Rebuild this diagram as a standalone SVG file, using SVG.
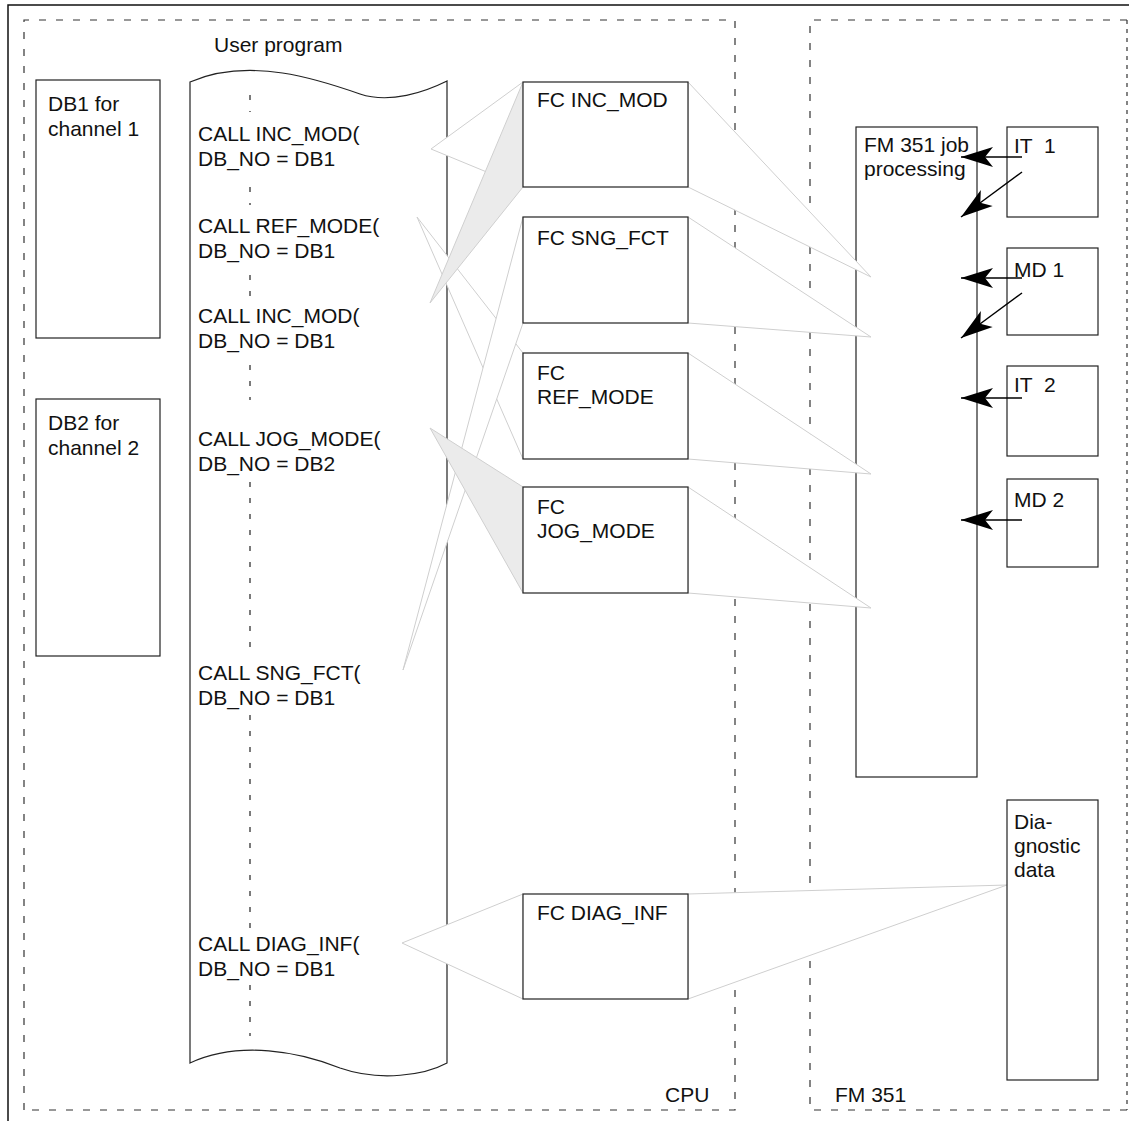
<svg xmlns="http://www.w3.org/2000/svg" width="1129" height="1121" viewBox="0 0 1129 1121">
<style>
text{font-family:"Liberation Sans",Arial,sans-serif;font-size:21px;fill:#111;white-space:pre}
.box{fill:#fff;stroke:#222;stroke-width:1.2}
.dash{fill:none;stroke:#333;stroke-width:1.2;stroke-dasharray:7 10}
.tri{fill:#fff;stroke:#cfcfcf;stroke-width:1}
.triG{fill:#ebebeb;stroke:#cfcfcf;stroke-width:1}
.arr{fill:none;stroke:#000;stroke-width:1.4;marker-end:url(#ah)}
</style>
<defs>
<marker id="ah" markerUnits="userSpaceOnUse" viewBox="-33 -11 34 22" refX="0" refY="0" markerWidth="34" markerHeight="22" orient="auto">
<path d="M0,0 L-32,-10 L-24,0 L-32,10 Z" fill="#000"/>
</marker>
</defs>
<rect width="1129" height="1121" fill="#fff"/>
<g id="frame">
<path d="M8,1121 V5 H1129" fill="none" stroke="#111" stroke-width="1.5"/>
<path class="dash" d="M24,1110 V20 H735 V1110 Z"/>
<path class="dash" d="M1127,20 H810 V1110 H1127"/>
<path d="M1127,20 V1110" fill="none" stroke="#333" stroke-width="1.2" stroke-dasharray="4 5"/>
<text x="665" y="1102">CPU</text>
<text x="835" y="1102">FM 351</text>
</g>
<g id="db1"><rect class="box" x="36" y="80" width="124" height="258"/><text x="48" y="111">DB1 for</text><text x="48" y="136">channel 1</text></g>
<g id="db2"><rect class="box" x="36" y="399" width="124" height="257"/><text x="48" y="430">DB2 for</text><text x="48" y="455">channel 2</text></g>
<g id="user-program">
<text x="214" y="52">User program</text>
<path class="box" d="M190,82 C250,56 320,80 360,94 C390,104 425,92 447,81 L447,1063 C425,1075 380,1082 340,1068 C300,1052 240,1040 190,1063 Z"/>
<path d="M250,95 V112 M250,187 V205 M250,275 V297 M250,365 V400 M250,482 V657 M250,715 V928 M250,985 V1036" fill="none" stroke="#222" stroke-width="1.2" stroke-dasharray="5 11"/>
<text x="198" y="141">CALL INC_MOD(</text><text x="198" y="166">DB_NO = DB1</text>
<text x="198" y="233">CALL REF_MODE(</text><text x="198" y="258">DB_NO = DB1</text>
<text x="198" y="323">CALL INC_MOD(</text><text x="198" y="348">DB_NO = DB1</text>
<text x="198" y="446">CALL JOG_MODE(</text><text x="198" y="471">DB_NO = DB2</text>
<text x="198" y="680">CALL SNG_FCT(</text><text x="198" y="705">DB_NO = DB1</text>
<text x="198" y="951">CALL DIAG_INF(</text><text x="198" y="976">DB_NO = DB1</text>
</g>
<g id="fm-job"><rect class="box" x="856" y="127" width="121" height="650"/><text x="864" y="152">FM 351 job</text><text x="864" y="176">processing</text></g>
<g id="connectors">
<polygon class="tri" points="431,149 523,82 523,187"/>
<polygon class="tri" points="417,217 523,353 523,459"/>
<polygon class="tri" points="403,670 523,217 523,323"/>
<polygon class="tri" points="402,943 523,894 523,999"/>
<polygon class="triG" points="430,303 523,82 523,187"/>
<polygon class="triG" points="430,428 523,487 523,593"/>
<polygon class="tri" points="871,277 688,82 688,187"/>
<polygon class="tri" points="871,337 688,217 688,323"/>
<polygon class="tri" points="871,474 688,353 688,459"/>
<polygon class="tri" points="871,608 688,487 688,593"/>
<polygon class="tri" points="1007,885 688,894 688,999"/>
</g>
<g id="fc-inc"><rect class="box" x="523" y="82" width="165" height="105"/><text x="537" y="107">FC INC_MOD</text></g>
<g id="fc-sng"><rect class="box" x="523" y="217" width="165" height="106"/><text x="537" y="245">FC SNG_FCT</text></g>
<g id="fc-ref"><rect class="box" x="523" y="353" width="165" height="106"/><text x="537" y="380">FC</text><text x="537" y="404">REF_MODE</text></g>
<g id="fc-jog"><rect class="box" x="523" y="487" width="165" height="106"/><text x="537" y="514">FC</text><text x="537" y="538">JOG_MODE</text></g>
<g id="fc-diag"><rect class="box" x="523" y="894" width="165" height="105"/><text x="537" y="920">FC DIAG_INF</text></g>
<g id="it1"><rect class="box" x="1007" y="127" width="91" height="90"/><text x="1014" y="153">IT  1</text></g>
<g id="md1"><rect class="box" x="1007" y="248" width="91" height="87"/><text x="1014" y="277">MD 1</text></g>
<g id="it2"><rect class="box" x="1007" y="366" width="91" height="90"/><text x="1014" y="392">IT  2</text></g>
<g id="md2"><rect class="box" x="1007" y="479" width="91" height="88"/><text x="1014" y="507">MD 2</text></g>
<g id="diag"><rect class="box" x="1007" y="800" width="91" height="280"/><text x="1014" y="829">Dia-</text><text x="1014" y="853">gnostic</text><text x="1014" y="877">data</text></g>
<g id="arrows">
<path class="arr" d="M1022,157 H961"/>
<path class="arr" d="M1022,172 L961,217"/>
<path class="arr" d="M1022,278 H961"/>
<path class="arr" d="M1022,293 L961,338"/>
<path class="arr" d="M1022,398 H961"/>
<path class="arr" d="M1022,520 H961"/>
</g>
</svg>
